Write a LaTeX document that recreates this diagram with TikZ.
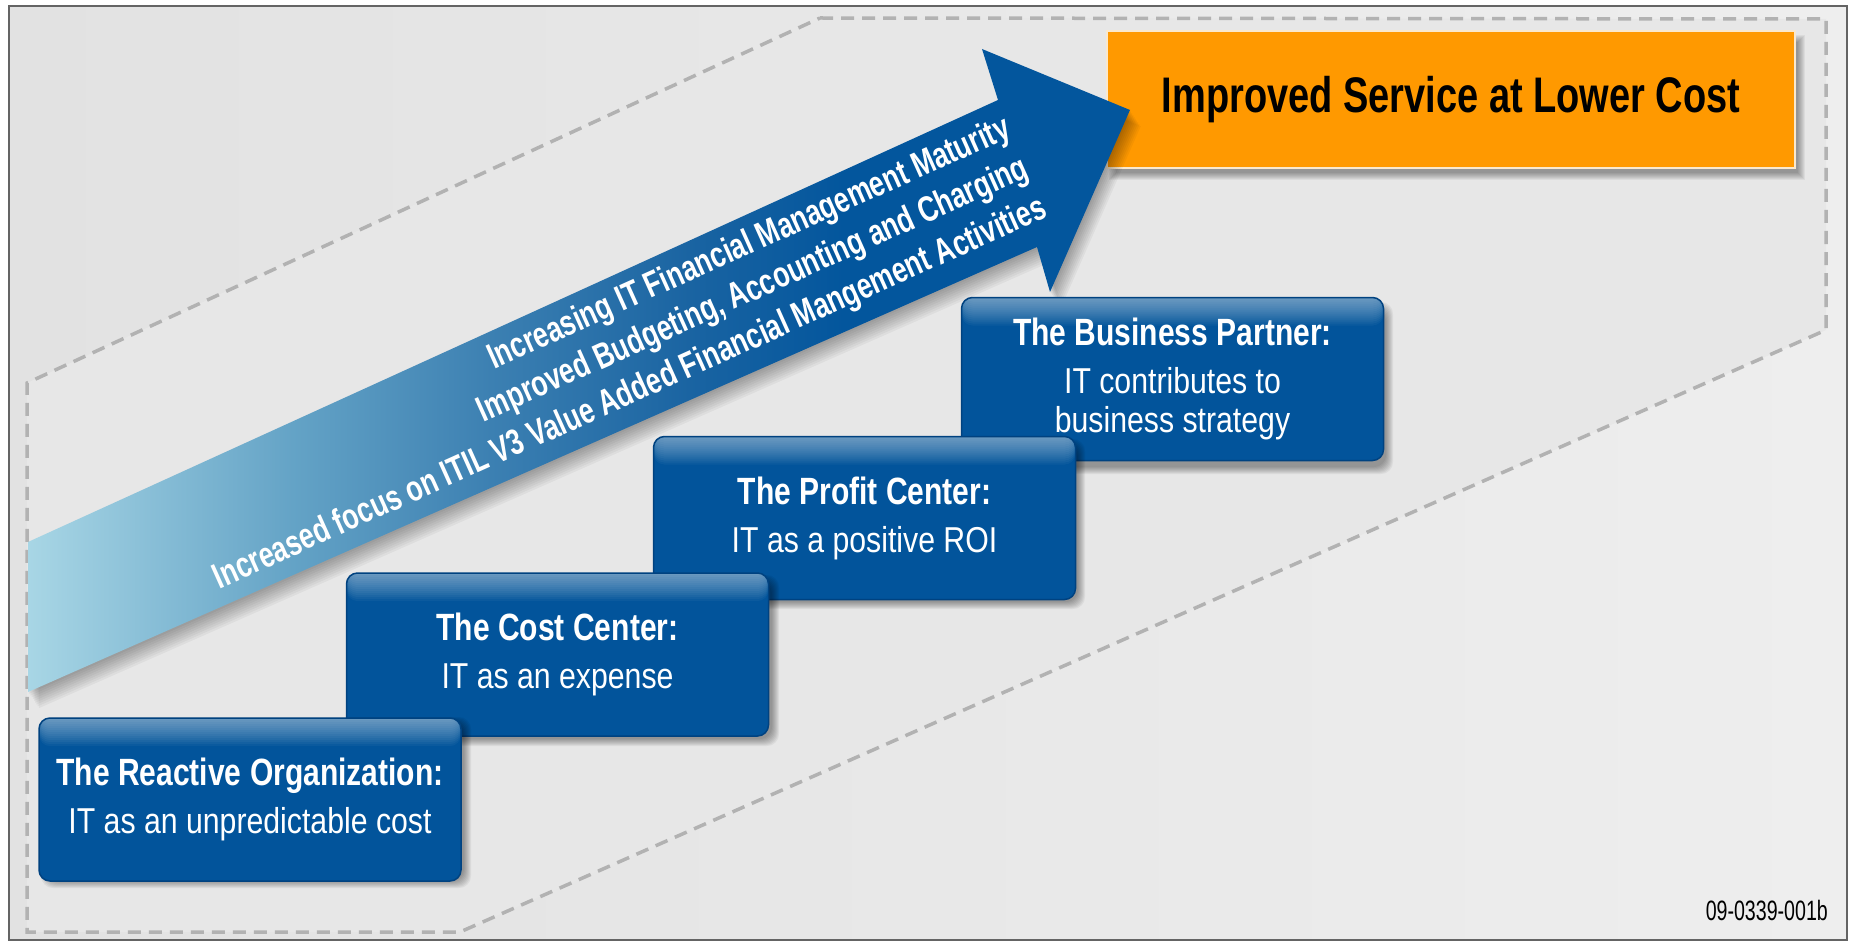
\documentclass[tikz,border=0pt]{standalone}
\usepackage{fontspec}
\setmainfont{Liberation Sans}
\newfontfamily\fTitle{Liberation Sans}[FakeStretch=0.79]
\newfontfamily\fSub{Liberation Sans}[FakeStretch=0.84]
\newfontfamily\fArrow{Liberation Sans}[FakeStretch=0.74]
\newfontfamily\fGoal{Liberation Sans}[FakeStretch=0.76]
\newfontfamily\fCode{Liberation Sans}[FakeStretch=0.70]

\definecolor{boxblue}{RGB}{2,84,155}
\definecolor{boxedge}{RGB}{0,66,128}
\definecolor{goalorange}{RGB}{255,153,0}
\definecolor{goaledge}{RGB}{250,232,205}
\definecolor{polyfill}{RGB}{231,231,231}
\definecolor{dashgray}{RGB}{178,178,178}
\definecolor{framegray}{RGB}{100,100,100}
\definecolor{bgL}{RGB}{226,226,226}
\definecolor{bgM}{RGB}{251,251,251}
\definecolor{bgR}{RGB}{238,238,238}
\definecolor{ac0}{RGB}{168,214,229}
\definecolor{ac1}{RGB}{100,163,198}
\definecolor{ac2}{RGB}{60,128,178}
\definecolor{ac3}{RGB}{26,100,162}
\definecolor{ac4}{RGB}{3,86,157}

\pgfdeclarehorizontalshading{arrowshade}{100bp}{color(0bp)=(ac0); color(25bp)=(ac0); color(37bp)=(ac1); color(46bp)=(ac2); color(55bp)=(ac3); color(62bp)=(ac4); color(100bp)=(ac4)}

\newcommand{\softshadow}[5]{%
  \foreach \k in {1,...,8}{%
    \fill[black,opacity=0.05,#5] ({#1+6+4-\k},{#2+8+4-\k}) rectangle ({#3+6-4+\k},{#4+8-4+\k});
  }}
\newcommand{\boxtext}[2]{{\fTitle\bfseries\fontsize{38}{40}\selectfont #1}\\[9pt]#2}
\newcommand{\arrowlines}{Increasing IT Financial Management Maturity\\Improved Budgeting, Accounting and Charging\\Increased focus on ITIL V3 Value Added Financial Mangement Activities}

\tikzset{
  stepbox/.style={rounded corners=11pt, fill=boxblue, draw=boxedge, line width=1.5pt,
    minimum width=422pt, minimum height=163pt, inner sep=0pt, align=center, text=white,
    font=\fSub\fontsize{36}{39}\selectfont,
    path picture={\foreach \k in {1,...,14}{\fill[white,opacity=0.04]
      ([yshift=2pt]path picture bounding box.north west) rectangle
      ([yshift={-2pt*\k}]path picture bounding box.north east);}}},
  arrowtext/.style={rotate=24.2, anchor=east, align=right, inner sep=0pt,
    font=\fArrow\bfseries\fontsize{36}{44}\selectfont},
  dashedge/.style={dashgray, line width=3.5pt, dash pattern=on 13pt off 8pt},
}

\begin{document}
\begin{tikzpicture}[x=1pt,y=-1pt]
\useasboundingbox (0,0) rectangle (1851,944);
\fill[white] (0,0) rectangle (1851,944);
% background
\shade[left color=bgL, middle color=bgM, right color=bgR] (9,6) rectangle (1847,940);
% dashed band
\fill[polyfill] (820,18) -- (1826,19) -- (1826,330) -- (460,932) -- (27,932) -- (27,383) -- cycle;
\draw[dashedge] (820,18) -- (1826,19) -- (1826,330) -- (460,932) -- (27,932) -- (27,383) -- cycle;

% goal box
\softshadow{1107}{31}{1795}{168}{sharp corners}
\node[draw=goaledge, line width=2pt, fill=goalorange, minimum width=688pt, minimum height=137pt,
  inner sep=0pt, font=\fGoal\bfseries\fontsize{50}{54}\selectfont] (goal) at (1451,99.5)
  {Improved Service at Lower Cost};

% arrow shadow
\foreach \k in {1,...,9}{
  \fill[black,opacity=0.04,shift={({\k*1.2},{\k*1.8})}] (28,542) -- (998,100) -- (982,49) -- (1130,110) -- (1050,292) -- (1037,247) -- (28,692) -- cycle;
}
% arrow
\shade[shading=arrowshade] (28,542) -- (998,100) -- (982,49) -- (1130,110) -- (1050,292) -- (1037,247) -- (28,692) -- cycle;

% arrow text
\node[arrowtext, text=white] (atext) at (1027,168) {\arrowlines};

% steps
\softshadow{962}{298}{1383}{462}{rounded corners=12pt}
\node[stepbox] (partner) at (1172.5,379) {\boxtext{The Business Partner:}{IT contributes to\\business strategy}};
\softshadow{654}{435}{1075}{597}{rounded corners=12pt}
\node[stepbox] (profit) at (864.5,518) {\boxtext{The Profit Center:}{IT as a positive ROI}};
\softshadow{346}{571}{769}{734}{rounded corners=12pt}
\node[stepbox] (cost) at (557.5,654.5) {\boxtext{The Cost Center:}{IT as an expense}};
\softshadow{39}{713}{461}{876}{rounded corners=12pt}
\node[stepbox] (reactive) at (250,799.5) {\boxtext{The Reactive Organization:}{IT as an unpredictable cost}};

% code
\node[anchor=east, inner sep=0pt, font=\fCode\fontsize{28}{30}\selectfont] (code) at (1828,910) {09-0339-001b};

% frame
\draw[framegray, line width=2.5pt] (9,6) rectangle (1847,940);
\end{tikzpicture}
\end{document}
